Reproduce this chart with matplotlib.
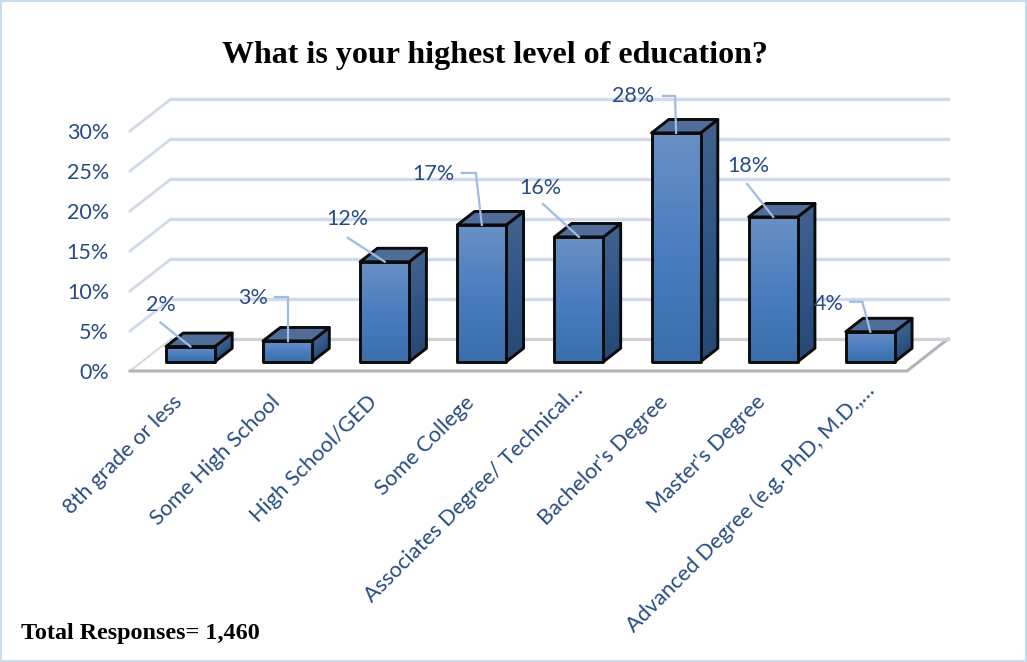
import numpy as np
import matplotlib
matplotlib.use("Agg")
import matplotlib.pyplot as plt
from matplotlib.patches import Polygon, Rectangle
from matplotlib.colors import LinearSegmentedColormap

categories = ["8th grade or less", "Some High School", "High School/GED", "Some College",
              "Associates Degree/ Technical…", "Bachelor's Degree", "Master's Degree",
              "Advanced Degree (e.g. PhD, M.D.,…"]
values = [1.9, 2.6, 12.5, 17.1, 15.6, 28.6, 18.1, 3.75]
value_labels = ["2%", "3%", "12%", "17%", "16%", "28%", "18%", "4%"]
y_ticks = [0, 5, 10, 15, 20, 25, 30]
y_tick_labels = ["0%", "5%", "10%", "15%", "20%", "25%", "30%"]

# label placement, in pixels relative to the bar's top-front centre
label_offsets = [(-30, 42), (-35, 43), (-37, 43), (-48, 51), (-39, 49), (-43, 37), (-25, 51), (-42, 28)]
leader_paths = [[(-30, 24), (0, 0)], [(-13, 44), (0, 44), (0, 0)], [(-37, 24), (0, 0)],
                [(-20, 52), (-6, 52), (0, 0)], [(-36, 33), (0, 0)], [(-13, 37), (-1, 37), (0, 0)],
                [(-26, 33), (0, 0)], [(-20, 30), (-8, 30), (0, 0)]]

W, H = 1027, 662
TEXT = "#264d82"
GRID = "#cfdaea"
LEADER = "#9dbde3"

fig = plt.figure(figsize=(W / 100, H / 100), dpi=100, facecolor="white")
L, R, B, T = 130, 907, 371, 131
ax = fig.add_axes([L / W, 1 - B / H, (R - L) / W, (B - T) / H])
ax.axis("off")
xlim = (-0.5, 7.5)
ylim = (0, 30)
px_x = (R - L) / (xlim[1] - xlim[0])
px_y = (B - T) / (ylim[1] - ylim[0])
DX, DY = 41 / px_x, 32 / px_y


def proj(x, y, d=0.0):
    return x + d * DX, y + d * DY


# walls and floor
floor = [proj(xlim[0], 0), proj(xlim[1], 0), proj(xlim[1], 0, 1), proj(xlim[0], 0, 1)]
ax.plot([floor[0][0], floor[3][0]], [floor[0][1], floor[3][1]], color="#d5dbe3", lw=1.5, clip_on=False, zorder=1)
ax.plot([floor[0][0], floor[1][0], floor[2][0]], [floor[0][1], floor[1][1], floor[2][1]],
        color="#b2b4b8", lw=2.2, clip_on=False, zorder=1, solid_joinstyle="miter")
for t, lab in zip(y_ticks, y_tick_labels):
    a, b, c = proj(xlim[0], t), proj(xlim[0], t, 1), proj(xlim[1], t, 1)
    col = "#cfd3d9" if t == 0 else GRID
    if t > 0:
        ax.plot([a[0], b[0]], [a[1], b[1]], color=col, lw=2, clip_on=False, zorder=1)
    ax.plot([b[0], c[0]], [b[1], c[1]], color=col, lw=2.4, clip_on=False, zorder=1)
    ax.text(-0.5 - 21 / px_x, t - 2 / px_y, lab, ha="right", va="center",
            fontsize=15.5, color=TEXT, family="Lato", clip_on=False)

cm_front = LinearSegmentedColormap.from_list("f", ["#3a6dab", "#4a7dbf", "#6a8fc4"])
cm_side = LinearSegmentedColormap.from_list("s", ["#264874", "#2f5585", "#41608d"])
D0, D1 = 0.29, 0.71
hw = 49 / px_x / 2
N_STRIPS = 60


def shaded_face(bl, br, tr, tl, cmap, z):
    """Fill a quad with a bottom-to-top gradient, then outline it."""
    bl, br, tr, tl = map(np.array, (bl, br, tr, tl))
    for k in range(N_STRIPS):
        f0, f1 = k / N_STRIPS, (k + 1) / N_STRIPS
        pts = [bl + (tl - bl) * f0, br + (tr - br) * f0, br + (tr - br) * f1, bl + (tl - bl) * f1]
        ax.add_patch(Polygon(pts, closed=True, fc=cmap((k + 0.5) / N_STRIPS), ec="none", lw=0,
                             antialiased=False, clip_on=False, zorder=z))
    ax.add_patch(Polygon([bl, br, tr, tl], closed=True, fc="none", ec="#0b0b0b", lw=2.1,
                         joinstyle="round", clip_on=False, zorder=z + 0.005))


for i, v in enumerate(values):
    z = 3 + i * 0.1
    fl, fb = proj(i - hw, 0, D0), proj(i + hw, 0, D0)
    ft, fr = proj(i - hw, v, D0), proj(i + hw, v, D0)
    bb, bt = proj(i + hw, 0, D1), proj(i + hw, v, D1)
    bl = proj(i - hw, v, D1)
    shaded_face(fb, bb, bt, fr, cm_side, z)
    ax.add_patch(Polygon([ft, fr, bt, bl], closed=True, fc="#4f6d98", ec="#0b0b0b", lw=2.1,
                         joinstyle="round", clip_on=False, zorder=z + 0.01))
    shaded_face(fl, fb, fr, ft, cm_front, z + 0.02)

# leaders and value labels
for i, v in enumerate(values):
    ax0, ay0 = proj(i, v, D0)
    path = leader_paths[i]
    ax.plot([ax0 + p[0] / px_x for p in path], [ay0 + p[1] / px_y for p in path],
            color=LEADER, lw=1.6, zorder=5, clip_on=False, solid_joinstyle="miter")
    ox, oy = label_offsets[i]
    ax.text(ax0 + ox / px_x, ay0 + oy / px_y, value_labels[i], ha="center", va="center",
            fontsize=15.5, color=TEXT, family="Lato", zorder=6, clip_on=False)

# category labels (the truncated ones sit further up their own slanted line)
for i, c in enumerate(categories):
    dx, dy = (6, -9) if c.endswith("…") else (-6, -21)
    ax.text(i + dx / px_x, dy / px_y, c, rotation=45, rotation_mode="anchor", ha="right", va="top",
            fontsize=15.7, color=TEXT, family="Lato", clip_on=False)

ax.set_xlim(*xlim)
ax.set_ylim(*ylim)

fig.text(495 / W, 1 - 55 / H, "What is your highest level of education?", ha="center", va="center",
         fontsize=23, fontweight="bold", family="Liberation Serif", color="black")
fig.text(21 / W, 1 - 633 / H, "Total Responses= 1,460", ha="left", va="center",
         fontsize=17.4, fontweight="bold", family="Liberation Serif", color="black")
fig.add_artist(Rectangle((0.001, 0.002), 0.998, 0.996, transform=fig.transFigure, fc="none",
                         ec="#c8dcee", lw=1.5))
fig.savefig("out.png", dpi=100)
